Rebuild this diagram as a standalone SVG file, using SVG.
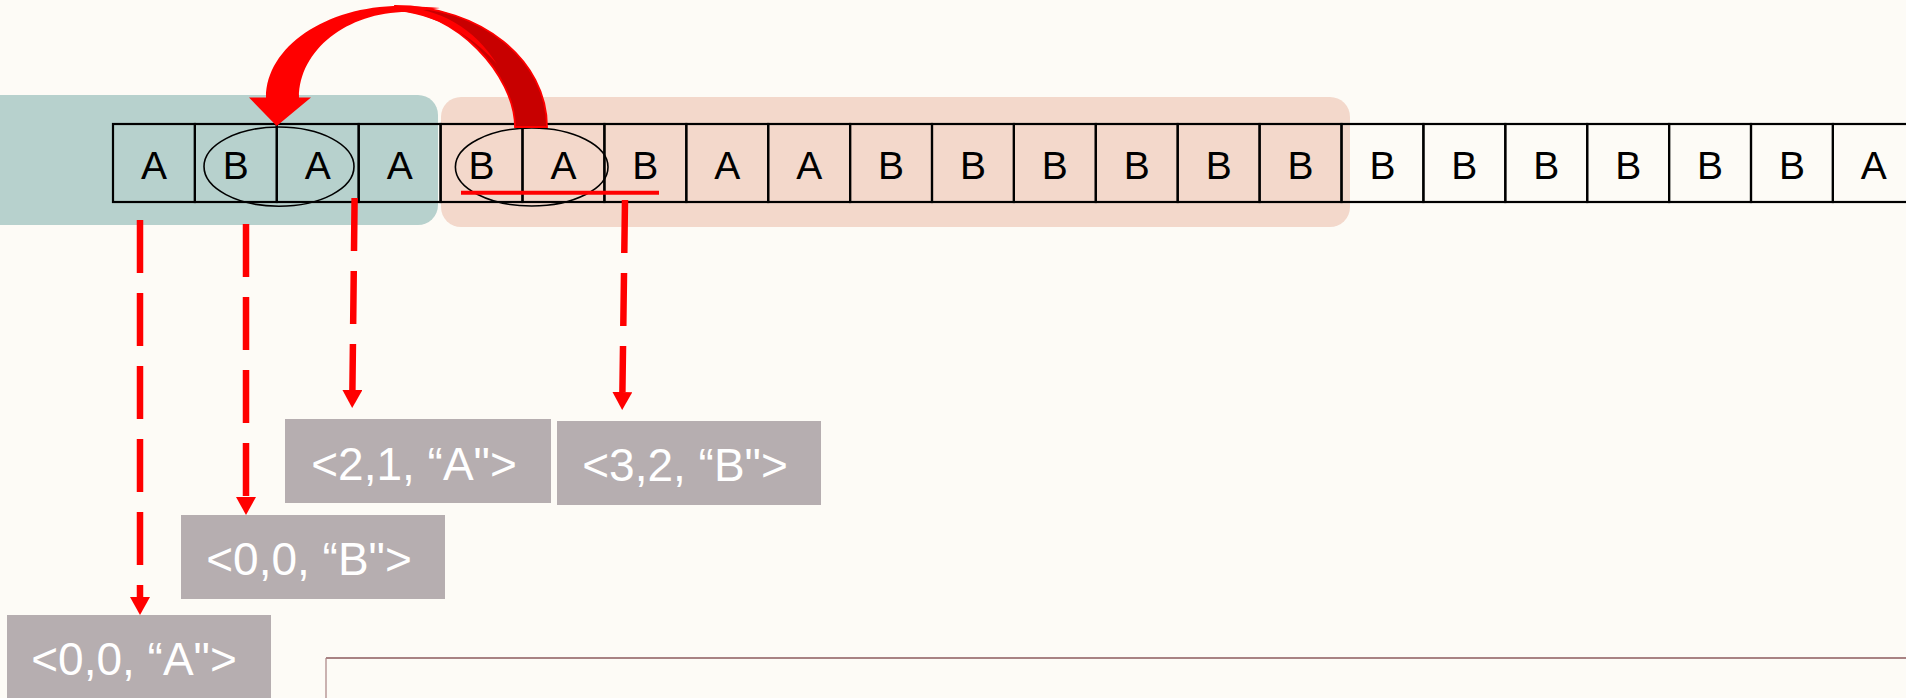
<svg xmlns="http://www.w3.org/2000/svg" width="1906" height="698" viewBox="0 0 1906 698">
  <style>
    .cell { fill: none; stroke: #000; stroke-width: 2.2; }
    .ch { font-family: "Liberation Sans", Arial, sans-serif; font-size: 39px; fill: #000; text-anchor: middle; }
    .ring { fill: none; stroke: #000; stroke-width: 1.6; }
    .dash { fill: none; stroke: #FF0000; stroke-width: 6.5; stroke-dasharray: 53 20; marker-end: url(#ah); }
    .box { fill: #B6AEB0; }
    .lbl { font-family: "Liberation Sans", Arial, sans-serif; font-size: 46px; fill: #FFFFFF; text-anchor: middle; }
  </style>
  <defs>
    <marker id="ah" viewBox="0 0 18 20" refX="0" refY="10" markerWidth="18" markerHeight="20" markerUnits="userSpaceOnUse" orient="auto">
      <path d="M0,0 L18,10 L0,20 Z" fill="#FF0000"/>
    </marker>
  </defs>

  <rect x="0" y="0" width="1906" height="698" fill="#FDFBF6"/>

  <g id="region-window">
    <rect x="-30" y="95" width="468" height="130" rx="20" fill="#B7D1CD"/>
  </g>
  <g id="region-lookahead">
    <rect x="441" y="97" width="909" height="130" rx="20" fill="#F3D8CB"/>
  </g>

  <g id="frame">
    <path d="M326,658 H1910" stroke="#A88283" stroke-width="2" fill="none"/>
    <path d="M326,658 V700" stroke="#A88283" stroke-width="1.2" fill="none"/>
  </g>

  <g id="sequence">
    <g id="cell-0"><rect class="cell" x="113" y="124" width="81.9" height="78"/><text class="ch" x="153.95" y="179">A</text></g>
    <g id="cell-1"><rect class="cell" x="194.9" y="124" width="81.9" height="78"/><text class="ch" x="235.85" y="179">B</text></g>
    <g id="cell-2"><rect class="cell" x="276.8" y="124" width="81.9" height="78"/><text class="ch" x="317.75" y="179">A</text></g>
    <g id="cell-3"><rect class="cell" x="358.7" y="124" width="81.9" height="78"/><text class="ch" x="399.65" y="179">A</text></g>
    <g id="cell-4"><rect class="cell" x="440.6" y="124" width="81.9" height="78"/><text class="ch" x="481.55" y="179">B</text></g>
    <g id="cell-5"><rect class="cell" x="522.5" y="124" width="81.9" height="78"/><text class="ch" x="563.45" y="179">A</text></g>
    <g id="cell-6"><rect class="cell" x="604.4" y="124" width="81.9" height="78"/><text class="ch" x="645.35" y="179">B</text></g>
    <g id="cell-7"><rect class="cell" x="686.3" y="124" width="81.9" height="78"/><text class="ch" x="727.25" y="179">A</text></g>
    <g id="cell-8"><rect class="cell" x="768.2" y="124" width="81.9" height="78"/><text class="ch" x="809.15" y="179">A</text></g>
    <g id="cell-9"><rect class="cell" x="850.1" y="124" width="81.9" height="78"/><text class="ch" x="891.05" y="179">B</text></g>
    <g id="cell-10"><rect class="cell" x="932" y="124" width="81.9" height="78"/><text class="ch" x="972.95" y="179">B</text></g>
    <g id="cell-11"><rect class="cell" x="1013.9" y="124" width="81.9" height="78"/><text class="ch" x="1054.85" y="179">B</text></g>
    <g id="cell-12"><rect class="cell" x="1095.8" y="124" width="81.9" height="78"/><text class="ch" x="1136.75" y="179">B</text></g>
    <g id="cell-13"><rect class="cell" x="1177.7" y="124" width="81.9" height="78"/><text class="ch" x="1218.65" y="179">B</text></g>
    <g id="cell-14"><rect class="cell" x="1259.6" y="124" width="81.9" height="78"/><text class="ch" x="1300.55" y="179">B</text></g>
    <g id="cell-15"><rect class="cell" x="1341.5" y="124" width="81.9" height="78"/><text class="ch" x="1382.45" y="179">B</text></g>
    <g id="cell-16"><rect class="cell" x="1423.4" y="124" width="81.9" height="78"/><text class="ch" x="1464.35" y="179">B</text></g>
    <g id="cell-17"><rect class="cell" x="1505.3" y="124" width="81.9" height="78"/><text class="ch" x="1546.25" y="179">B</text></g>
    <g id="cell-18"><rect class="cell" x="1587.2" y="124" width="81.9" height="78"/><text class="ch" x="1628.15" y="179">B</text></g>
    <g id="cell-19"><rect class="cell" x="1669.1" y="124" width="81.9" height="78"/><text class="ch" x="1710.05" y="179">B</text></g>
    <g id="cell-20"><rect class="cell" x="1751" y="124" width="81.9" height="78"/><text class="ch" x="1791.95" y="179">B</text></g>
    <g id="cell-21"><rect class="cell" x="1832.9" y="124" width="81.9" height="78"/><text class="ch" x="1873.85" y="179">A</text></g>
  </g>

  <g id="match-ring-1"><ellipse class="ring" cx="279" cy="166.6" rx="75" ry="39.6"/></g>
  <g id="match-ring-2"><ellipse class="ring" cx="531.7" cy="167" rx="76.3" ry="39"/></g>
  <g id="match-underline"><line x1="461" y1="192.7" x2="659" y2="192.7" stroke="#FF0000" stroke-width="4"/></g>

  <g id="connectors">
    <path class="dash" d="M140,220 L140,597"/>
    <path class="dash" d="M246,224 L246,497"/>
    <path class="dash" d="M354.6,198 L352.4,390"/>
    <path class="dash" d="M625,200 L622.4,392"/>
    <g id="back-reference-arrow">
      <path d="M395,6 C481,6 547,60 547,127 L515,127 C515,75 455,10 395,10 Z" fill="#C80000" stroke="#FF0000" stroke-width="1.8"/>
      <path d="M398,7 C440,8 474,28 497,64 C476,40 445,17 398,11 Z" fill="#FF0000"/>
      <path d="M249,97.5 L266,97.5 C266,47 326,6 400,6 C415,6 428,7 440,8 C425,10 415,11 407,12 C347,12 299,50.3 299,97.5 L311,97.5 L276.7,126 Z" fill="#FF0000"/>
    </g>
  </g>

  <g id="token-2-1-A">
    <rect class="box" x="285" y="419" width="266" height="84"/>
    <text class="lbl" x="414" y="480">&lt;2,1, “A"&gt;</text>
  </g>
  <g id="token-3-2-B">
    <rect class="box" x="557" y="421" width="264" height="84"/>
    <text class="lbl" x="685" y="481">&lt;3,2, “B"&gt;</text>
  </g>
  <g id="token-0-0-B">
    <rect class="box" x="181" y="515" width="264" height="84"/>
    <text class="lbl" x="309" y="575">&lt;0,0, “B"&gt;</text>
  </g>
  <g id="token-0-0-A">
    <rect class="box" x="7" y="615" width="264" height="90"/>
    <text class="lbl" x="134" y="675">&lt;0,0, “A"&gt;</text>
  </g>
</svg>
